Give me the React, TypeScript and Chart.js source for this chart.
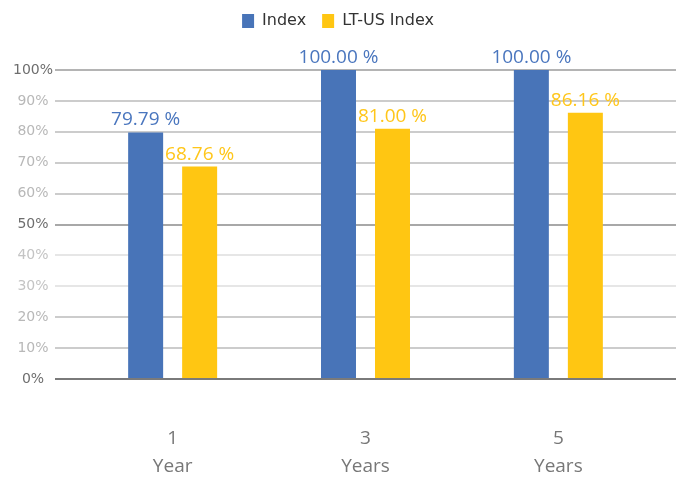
import React, { useEffect, useRef } from "react";
import { Chart, registerables } from "chart.js";

Chart.register(...registerables);

const periods = ["1", "3", "5"];
const units = ["Year", "Years", "Years"];
const seriesNames = ["Index", "LT-US Index"];
const indexValues = [79.79, 100.0, 100.0];
const ltUsValues = [68.76, 81.0, 86.16];

const barColors = ["#4874B8", "#FFC612"];
const labelColors = ["#4A76BE", "#FFC61A"];

const tickColor = (v: number) =>
  v === 100 || v === 50 || v === 0 ? "#6e6e6e" : v === 40 || v === 30 ? "#c4c4c4" : "#b8b8b8";
const gridColor = (v: number) => {
  if (v === 0) return "#7a7a7a";
  if (v === 100) return "#b4b4b4";
  if (v === 50) return "#a8a8a8";
  if (v === 40 || v === 30) return "#e6e6e6";
  return "#cccccc";
};

const valueLabels = {
  id: "valueLabels",
  afterDatasetsDraw(chart: any) {
    const ctx = chart.ctx;
    ctx.save();
    ctx.font = "19px 'Open Sans'";
    ctx.textAlign = "center";
    ctx.textBaseline = "alphabetic";
    chart.data.datasets.forEach((ds: any, di: number) => {
      const meta = chart.getDatasetMeta(di);
      ctx.fillStyle = labelColors[di];
      meta.data.forEach((bar: any, i: number) => {
        const v = ds.data[i].y as number;
        ctx.fillText(v.toFixed(2) + " %", bar.x, bar.y - 7);
      });
    });
    ctx.restore();
  },
};

export default function App() {
  const ref = useRef<HTMLCanvasElement | null>(null);
  useEffect(() => {
    document.body.style.margin = "0";
    if (!ref.current) return;
    const chart = new Chart(ref.current, {
      type: "bar",
      data: {
        datasets: [indexValues, ltUsValues].map((vals, di) => ({
          label: seriesNames[di],
          data: vals.map((v, i) => ({ x: i, y: v })),
          backgroundColor: barColors[di],
          borderWidth: 0,
          categoryPercentage: 0.56,
          barPercentage: 0.648,
        })),
      },
      options: {
        responsive: false,
        animation: false,
        layout: { padding: { top: -3, left: 0, right: 4, bottom: 0 } },
        plugins: {
          tooltip: { enabled: false },
          legend: {
            position: "top",
            labels: {
              boxWidth: 12,
              boxHeight: 14,
              padding: 16,
              color: "#333333",
              font: { family: "'DejaVu Sans'", size: 16 },
            },
          },
          title: {
            display: true,
            text: "",
            weight: 500,
            font: { size: 1, lineHeight: 1 },
            padding: { top: 0, bottom: 30 },
          },
        },
        scales: {
          x: {
            type: "linear",
            offset: false,
            min: -0.61,
            max: 2.61,
            afterBuildTicks: (scale: any) => {
              scale.ticks = periods.map((_, i) => ({ value: i }));
            },
            afterFit: (scale: any) => {
              scale.height = 98;
            },
            grid: { display: false, drawTicks: false },
            border: { display: false },
            ticks: {
              padding: 45,
              color: "#777777",
              font: { family: "'Open Sans'", size: 19, lineHeight: 1.5 },
              maxRotation: 0,
              autoSkip: false,
              callback: (v: any) => {
                const i = Math.round(Number(v));
                return [periods[i], units[i]];
              },
            },
          },
          y: {
            min: 0,
            max: 100,
            afterFit: (scale: any) => {
              scale.width = 55;
            },
            grid: {
              drawTicks: false,
              lineWidth: 2,
              color: (c: any) => gridColor(c.tick ? c.tick.value : 0),
            },
            border: { display: false },
            ticks: {
              stepSize: 10,
              padding: 2,
              crossAlign: "center",
              font: { family: "'DejaVu Sans'", size: 14 },
              color: (c: any) => tickColor(c.tick ? c.tick.value : 0),
              callback: (v: any) => v + "%",
            },
          },
        },
      },
      plugins: [valueLabels],
    } as any);
    return () => chart.destroy();
  }, []);
  return (
    <div style={{ position: "absolute", left: 0, top: 0, width: 680, height: 477 }}>
      <canvas ref={ref} width={680} height={477} style={{ display: "block" }} />
    </div>
  );
}
